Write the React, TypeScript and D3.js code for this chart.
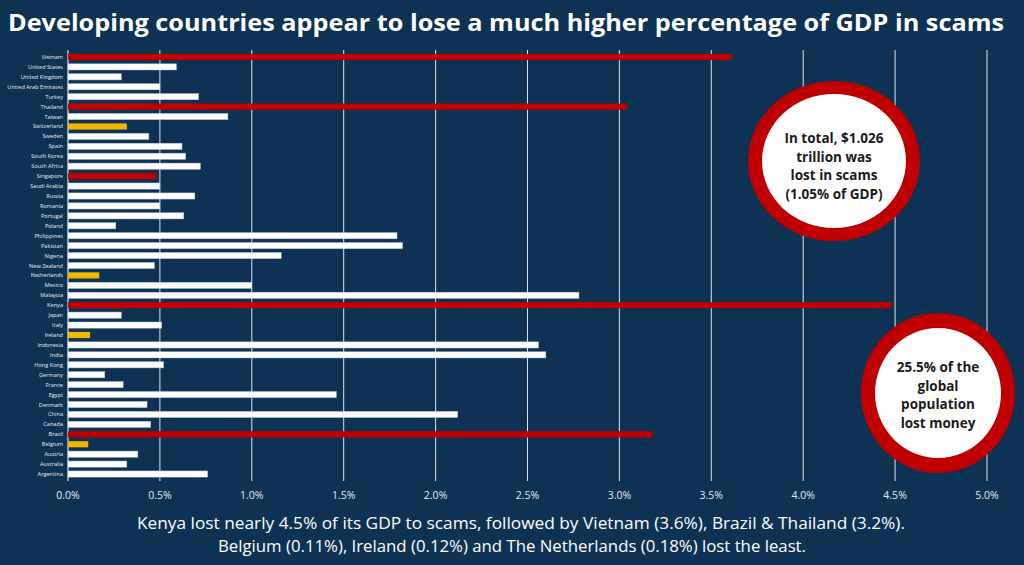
import React from "react";
import * as d3 from "d3";

const countries = [
  "Vietnam", "United States", "United Kingdom", "United Arab Emirates", "Turkey",
  "Thailand", "Taiwan", "Switzerland", "Sweden", "Spain", "South Korea", "South Africa",
  "Singapore", "Saudi Arabia", "Russia", "Romania", "Portugal", "Poland", "Philippines",
  "Pakistan", "Nigeria", "New Zealand", "Netherlands", "Mexico", "Malaysia", "Kenya",
  "Japan", "Italy", "Ireland", "Indonesia", "India", "Hong Kong", "Germany", "France",
  "Egypt", "Denmark", "China", "Canada", "Brazil", "Belgium", "Austria", "Australia", "Argentina",
];

const values = [
  3.61, 0.59, 0.29, 0.50, 0.71,
  3.04, 0.87, 0.32, 0.44, 0.62, 0.64, 0.72,
  0.48, 0.50, 0.69, 0.50, 0.63, 0.26, 1.79,
  1.82, 1.16, 0.47, 0.17, 1.00, 2.78, 4.48,
  0.29, 0.51, 0.12, 2.56, 2.60, 0.52, 0.20, 0.30,
  1.46, 0.43, 2.12, 0.45, 3.18, 0.11, 0.38, 0.32, 0.76,
];

const highlightRed = ["Vietnam", "Thailand", "Singapore", "Kenya", "Brazil"];
const highlightYellow = ["Switzerland", "Netherlands", "Ireland", "Belgium"];

const xTicks = [0, 0.5, 1, 1.5, 2, 2.5, 3, 3.5, 4, 4.5, 5];

const titleText = "Developing countries appear to lose a much higher percentage of GDP in scams";
const footerLines = [
  "Kenya lost nearly 4.5% of its GDP to scams, followed by Vietnam (3.6%), Brazil & Thailand (3.2%).",
  "Belgium (0.11%), Ireland (0.12%) and The Netherlands (0.18%) lost the least.",
];
const bubble1 = ["In total, $1.026", "trillion was", "lost in scams", "(1.05% of GDP)"];
const bubble2 = ["25.5% of the", "global", "population", "lost money"];

const BG = "#0e3253";
const RED = "#c00000";
const YELLOW = "#f2b800";

export default function App() {
  const W = 1024, H = 565;
  const x = d3.scaleLinear().domain([0, 5]).range([68, 987]);
  const y = d3.scaleBand<string>().domain(countries).range([52, 479]).paddingInner(0.38).paddingOuter(0.19);
  const bh = y.bandwidth();
  const font = "Open Sans, Lato, sans-serif";

  const colorOf = (c: string) =>
    highlightRed.includes(c) ? RED : highlightYellow.includes(c) ? YELLOW : "#ffffff";

  return (
    <svg width={W} height={H} style={{ position: "absolute", left: 0, top: 0, background: BG }}>
      <rect x={0} y={0} width={W} height={H} fill={BG} />
      <text x={8} y={31} fill="#ffffff" fontFamily={font} fontWeight={700} fontSize={23}
        textLength={996} lengthAdjust="spacingAndGlyphs">{titleText}</text>

      {/* gridlines */}
      {xTicks.map((t) => (
        <line key={t} x1={x(t)} x2={x(t)} y1={50} y2={481}
          stroke="#dde3ea" strokeWidth={t === 0 ? 1.2 : 1} />
      ))}
      {xTicks.map((t) => (
        <text key={"l" + t} x={x(t)} y={499} fill="#e6ebf0" fontFamily={font} fontSize={10.5}
          textAnchor="middle">{t.toFixed(1) + "%"}</text>
      ))}

      {/* bars */}
      {countries.map((c, i) => (
        <g key={c}>
          <rect x={x(0)} y={y(c)!} width={x(values[i]) - x(0)} height={bh}
            fill={colorOf(c)} stroke={colorOf(c) === "#ffffff" ? "#b9c2cc" : "none"} strokeWidth={0.5} />
          <text x={63} y={y(c)! + bh / 2 + 2} fill="#e8edf2" fontFamily={font} fontSize={5.6}
            textAnchor="end">{c}</text>
        </g>
      ))}

      {/* bubble 1 */}
      <ellipse cx={834} cy={161} rx={86} ry={80} fill={RED} />
      <ellipse cx={834} cy={161} rx={72} ry={67} fill="#ffffff" />
      {bubble1.map((s, i) => (
        <text key={s} x={834} y={143 + i * 18.5} textAnchor="middle" fill="#1a1a1a"
          fontFamily={font} fontWeight={700} fontSize={13.5}>{s}</text>
      ))}

      {/* bubble 2 */}
      <ellipse cx={938} cy={393} rx={77} ry={80} fill={RED} />
      <ellipse cx={938} cy={393} rx={63} ry={65} fill="#ffffff" />
      {bubble2.map((s, i) => (
        <text key={s} x={938} y={372 + i * 18.5} textAnchor="middle" fill="#1a1a1a"
          fontFamily={font} fontWeight={700} fontSize={13.5}>{s}</text>
      ))}

      {/* footer */}
      <text x={521} y={529} textAnchor="middle" fill="#ffffff" fontFamily={font} fontSize={16}
        textLength={768} lengthAdjust="spacingAndGlyphs">{footerLines[0]}</text>
      <text x={512} y={552} textAnchor="middle" fill="#ffffff" fontFamily={font} fontSize={16}
        textLength={588} lengthAdjust="spacingAndGlyphs">{footerLines[1]}</text>
    </svg>
  );
}
